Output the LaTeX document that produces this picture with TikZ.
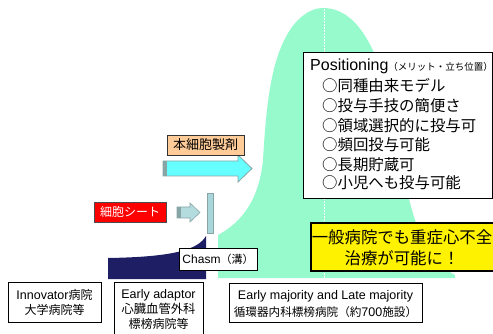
\documentclass[tikz,border=0pt]{standalone}
\usepackage{fontspec}
\setmainfont{Liberation Sans}
\newfontfamily\jp{Noto Sans CJK JP}
\definecolor{mint}{RGB}{150,250,205}
\definecolor{navy}{RGB}{30,30,100}
\definecolor{peach}{RGB}{255,204,153}
\definecolor{cyanfill}{RGB}{102,255,255}
\definecolor{arrowgray}{RGB}{135,165,165}
\definecolor{lightarrow}{RGB}{180,220,222}
\definecolor{barfill}{RGB}{168,214,218}
\begin{document}
\begin{tikzpicture}[x=1pt,y=-1pt,
  box/.style={draw=black, line width=0.7pt, fill=white, inner sep=0pt},
  lbl/.style={inner sep=0pt, align=center},
  item/.style={inner sep=0pt, anchor=base west, font=\jp\fontsize{15.4}{15.4}\selectfont}]
\useasboundingbox (0,0) rectangle (493,334);
% bell curve
\fill[mint] (218,278) -- (218,235) .. controls (242,222) and (259,200) .. (263,160)
  .. controls (266,110) and (270,60) .. (290,30) .. controls (300,15) and (312,8) .. (323,8)
  .. controls (345,8) and (362,25) .. (375,55) .. controls (395,100) and (400,170) .. (412,210)
  .. controls (420,240) and (435,265) .. (455,275) -- (455,278) -- cycle;
\draw[white, line width=0.6pt, dash pattern=on 2pt off 1pt] (324,9) -- (324,278);
% navy innovator area
\fill[navy] (108,279) -- (108,258) .. controls (172,257) and (198,250) .. (206,236) -- (206,279) -- cycle;
% cyan arrow
\filldraw[fill=cyanfill, draw=arrowgray, line width=0.8pt]
  (163,161) -- (238,161) -- (238,155) -- (252,168.5) -- (238,182) -- (238,176) -- (163,176) -- cycle;
\fill[arrowgray] (163,161) rectangle (167,176);
% small arrow
\filldraw[fill=lightarrow, draw=arrowgray, line width=0.6pt]
  (177,207) -- (190,207) -- (190,203) -- (200,212.5) -- (190,222) -- (190,218) -- (177,218) -- cycle;
\fill[arrowgray] (177,207) rectangle (181,218);
% vertical bar
\filldraw[fill=barfill, draw=arrowgray, line width=0.6pt] (207,193) rectangle (213,233);
% peach label
\node[draw=black!80, line width=0.7pt, fill=peach, minimum width=77, minimum height=20, inner sep=0pt,
  font=\jp\fontsize{13}{13}\selectfont] (prod) at (205.5,145) {本細胞製剤};
% red label
\node[draw=black!70, line width=0.7pt, fill=red, text=white, minimum width=72, minimum height=20, inner sep=0pt,
  font=\jp\fontsize{12}{12}\selectfont] (sheet) at (130,212) {細胞シート};
% chasm
\node[box, minimum width=78, minimum height=22, font=\fontsize{12}{12}\selectfont] (chasm) at (218,259)
  {Chasm{\jp\fontsize{11}{11}\selectfont （溝）}};
% positioning box
\node[box, minimum width=189, minimum height=146, anchor=north west] (posbox) at (303,52) {};
\node[inner sep=0pt, anchor=base west, font=\fontsize{16}{16}\selectfont] (postitle) at (310,71)
  {Positioning{\jp\fontsize{9.5}{9.5}\selectfont （メリット・立ち位置）}};
\node[item] (i1) at (322,92) {○同種由来モデル};
\node[item] (i2) at (322,112) {○投与手技の簡便さ};
\node[item] (i3) at (322,131.5) {○領域選択的に投与可};
\node[item] (i4) at (322,151) {○頻回投与可能};
\node[item] (i5) at (322,170.5) {○長期貯蔵可};
\node[item] (i6) at (322,189) {○小児へも投与可能};
% yellow box
\node[draw=black, line width=1.6pt, fill=yellow, minimum width=186, minimum height=48, anchor=north west, inner sep=0pt] (yel) at (310,222) {};
\node[lbl, font=\jp\fontsize{16.4}{16.4}\selectfont] (y1) at (402,237) {一般病院でも重症心不全};
\node[lbl, font=\jp\fontsize{16.4}{16.4}\selectfont] (y2) at (402,258) {治療が可能に！};
% bottom boxes
\node[box, minimum width=93, minimum height=40, anchor=north west] (inno) at (8,282) {};
\node[lbl, font=\fontsize{12.5}{15}\selectfont] (innot) at (54.5,302)
  {Innovator{\jp\fontsize{12}{12}\selectfont 病院}\\{\jp\fontsize{12}{12}\selectfont 大学病院等}};
\node[box, minimum width=89, minimum height=60, anchor=north west] (early) at (114,282) {};
\node[lbl, font=\fontsize{12.5}{15}\selectfont] (earlyt) at (158.5,309)
  {Early adaptor\\{\jp\fontsize{12.3}{12.3}\selectfont 心臓血管外科}\\{\jp\fontsize{12}{12}\selectfont 標榜病院等}};
\node[box, minimum width=193, minimum height=39, anchor=north west] (major) at (229,283) {};
\node[lbl, font=\fontsize{12.5}{16.5}\selectfont] (majort) at (325.5,304)
  {Early majority and Late majority\\{\jp\fontsize{11.6}{11.6}\selectfont 循環器内科標榜病院（約}700{\jp\fontsize{11.6}{11.6}\selectfont 施設）}};
\end{tikzpicture}
\end{document}
